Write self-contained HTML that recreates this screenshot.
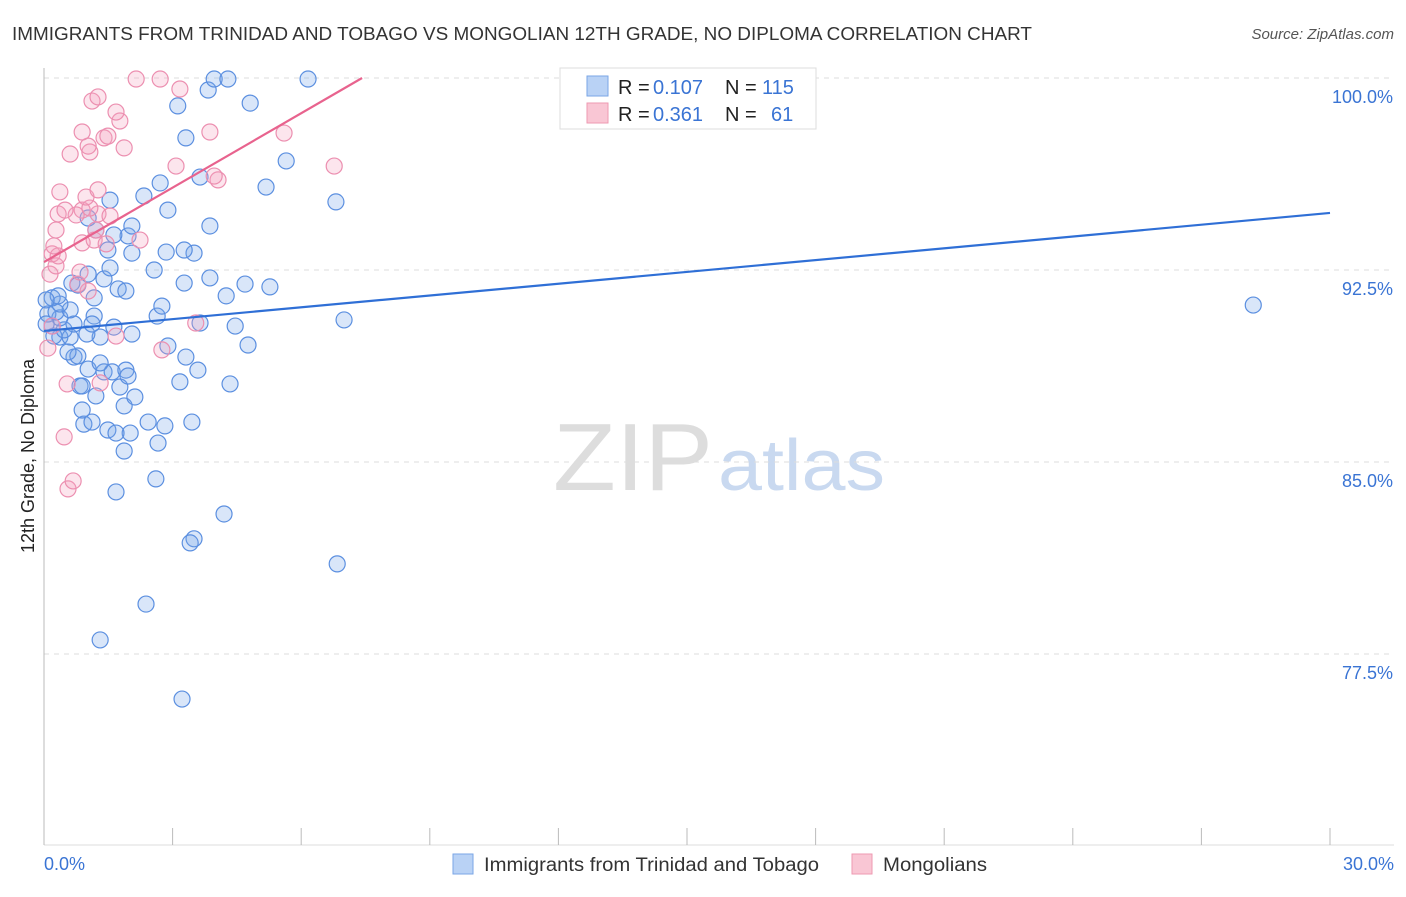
<!DOCTYPE html>
<html><head><meta charset="utf-8"><style>
body{margin:0;background:#fff;font-family:"Liberation Sans",sans-serif}
svg text{font-family:"Liberation Sans",sans-serif}
</style></head><body>
<svg id="chart" width="1406" height="892">
<text x="12" y="40" font-size="18" fill="#333" textLength="1020" lengthAdjust="spacingAndGlyphs">IMMIGRANTS FROM TRINIDAD AND TOBAGO VS MONGOLIAN 12TH GRADE, NO DIPLOMA CORRELATION CHART</text>
<text x="1394" y="39" font-size="15" fill="#555" font-style="italic" text-anchor="end">Source: ZipAtlas.com</text>
<text x="0" y="0" font-size="18" fill="#222" transform="translate(34,456) rotate(-90)" text-anchor="middle">12th Grade, No Diploma</text>
<g>
<text x="553" y="490" font-size="96" fill="#ddd" font-family="Liberation Serif,serif" textLength="160" lengthAdjust="spacingAndGlyphs">ZIP</text>
<text x="718" y="490" font-size="72" fill="#c9d9f0" textLength="167" lengthAdjust="spacingAndGlyphs">atlas</text>
</g>
<g id="grid"></g><g id="axes"></g><g id="pts"></g><g id="lines"></g>
<g>
<rect x="560" y="68" width="256" height="61" fill="#fff" stroke="#ddd"/>
<rect x="587" y="76" width="21" height="20" fill="#b9d2f5" stroke="#7aa6e6"/>
<rect x="587" y="103" width="21" height="20" fill="#f9c6d4" stroke="#ee99b2"/>
<text x="618" y="94" font-size="20" fill="#222">R =</text><text x="653" y="94" font-size="20" fill="#3a74d4">0.107</text>
<text x="725" y="94" font-size="20" fill="#222">N =</text><text x="762" y="94" font-size="20" fill="#3a74d4">115</text>
<text x="618" y="121" font-size="20" fill="#222">R =</text><text x="653" y="121" font-size="20" fill="#3a74d4">0.361</text>
<text x="725" y="121" font-size="20" fill="#222">N =</text><text x="771" y="121" font-size="20" fill="#3a74d4">61</text>
</g>
<g>
<rect x="453" y="854" width="20" height="20" fill="#b9d2f5" stroke="#7aa6e6"/>
<text x="484" y="871" font-size="19" fill="#333" textLength="335" lengthAdjust="spacingAndGlyphs">Immigrants from Trinidad and Tobago</text>
<rect x="852" y="854" width="20" height="20" fill="#f9c6d4" stroke="#ee99b2"/>
<text x="883" y="871" font-size="19" fill="#333" textLength="104" lengthAdjust="spacingAndGlyphs">Mongolians</text>
</g>
</svg>
<script>
const yTicks=[100,92.5,85,77.5];
const yTickLabels=["100.0%","92.5%","85.0%","77.5%"];
const xTickLabels=["0.0%","30.0%"];
const blueX=[1.31,3.22,2.38,6.84,3.50,3.41,4.20,1.68,2.61,1.87,2.66,2.01,1.49,1.68,0.93,1.12,2.43,2.82,3.45,0.89,1.87,1.21,2.12,0.84,0.89,1.77,3.17,4.34,1.40,1.59,1.91,1.96,1.03,3.59,1.31,0.70,0.79,3.31,2.89,0.56,4.76,0.37,0.23,0.61,1.31,1.00,2.05,1.63,0.47,0.19,0.70,1.17,1.12,3.64,4.46,2.64,7.00,0.37,0.09,0.28,0.61,0.37,0.19,0.33,1.17,2.75,1.73,1.91,4.25,5.27,4.69,0.65,0.79,1.40,3.87,3.27,1.03,1.54,2.57,2.05,2.85,3.50,1.49,3.27,1.96,1.63,1.21,2.05,3.87,1.03,2.89,1.54,2.33,6.81,5.18,2.71,3.64,5.65,3.31,3.12,4.81,3.83,3.97,4.29,6.16,28.21,0.05,0.05];
const blueY=[78.05,75.74,79.45,81.02,82.0,81.84,82.97,83.83,84.34,85.43,85.74,86.13,86.25,86.13,86.48,86.56,86.56,86.41,86.56,87.03,87.19,87.58,87.54,87.97,87.97,87.93,88.13,88.05,88.52,88.52,88.59,88.36,88.63,88.59,88.87,89.10,89.14,89.10,89.53,89.30,89.57,89.88,89.92,89.88,89.88,90.0,90.0,90.27,90.16,90.31,90.39,90.70,90.39,90.43,90.31,90.70,90.55,90.63,90.78,90.86,90.94,91.17,91.41,91.49,91.41,91.09,91.76,91.68,91.49,91.84,91.95,91.99,91.91,92.15,92.19,91.99,92.34,92.58,92.50,93.16,93.20,93.16,93.28,93.28,93.83,93.87,94.06,94.22,94.22,94.53,94.84,95.23,95.39,95.16,95.74,95.90,96.13,96.76,97.66,98.91,99.02,99.53,99.96,99.96,99.96,91.13,90.39,91.33];
const pinkX=[0.56,0.68,0.47,0.54,1.31,2.75,0.09,1.68,3.54,0.19,1.03,0.79,0.84,0.14,0.28,0.19,0.33,0.23,0.89,1.17,1.45,2.24,0.28,1.21,0.89,0.75,0.33,0.49,1.26,1.54,1.07,0.37,0.98,1.26,4.06,3.97,3.08,6.77,0.61,1.07,1.03,1.87,1.40,1.49,0.89,3.87,5.60,1.77,1.68,1.12,1.26,3.17,2.15,2.71];
const pinkY=[83.95,84.26,85.98,88.05,88.09,89.38,89.45,89.92,90.43,90.31,91.68,91.95,92.42,92.34,92.66,93.13,93.05,93.44,93.56,93.67,93.52,93.67,94.06,94.06,94.84,94.65,94.69,94.84,94.69,94.61,94.92,95.55,95.35,95.63,96.02,96.17,96.56,96.56,97.03,97.11,97.34,97.27,97.66,97.73,97.89,97.89,97.85,98.32,98.67,99.10,99.26,99.57,99.96,99.96];
const blueLine=[[0,90.12],[30,94.73]];
const pinkLine=[[0,92.81],[7.42,100]];
const NS='http://www.w3.org/2000/svg';
const sx=v=>44+v/30*1286, sy=v=>78+(100-v)/7.5*192;
function mk(tag,at,parent){const e=document.createElementNS(NS,tag);for(const k in at)e.setAttribute(k,at[k]);parent.appendChild(e);return e;}
const grid=document.getElementById('grid'),axes=document.getElementById('axes');
yTicks.forEach((t,i)=>{
 const l=mk('line',{x1:44,x2:1394,y1:sy(t),y2:sy(t),stroke:'#ddd','stroke-dasharray':'5,5'},grid);
 
 
 const tx=mk('text',{x:1393,y:sy(t)+25,'font-size':18,fill:'#3a74d4','text-anchor':'end'},axes);
 tx.textContent=yTickLabels[i];
 
 
});
mk('line',{x1:44,x2:44,y1:68,y2:845,stroke:'#bbb'},axes);
mk('line',{x1:44,x2:1394,y1:845,y2:845,stroke:'#ddd'},axes);
for(let i=0;i<=10;i++){const t=mk('line',{x1:sx(i*3),x2:sx(i*3),y1:828,y2:845,stroke:'#bbb'},axes);
 
 }
[[0,'start',44],[30,'end',1394]].forEach((d,i)=>{const t=mk('text',{x:d[2],y:870,'font-size':18,fill:'#3a74d4','text-anchor':d[1]},axes);t.textContent=xTickLabels[i];
 
 });
const pts=document.getElementById('pts');
blueX.forEach((x,i)=>{const c=mk('circle',{cx:sx(x),cy:sy(blueY[i]),r:8,fill:'rgba(120,165,235,0.28)',stroke:'#5b8fe0','stroke-width':1.2},pts);
 
 });
pinkX.forEach((x,i)=>{const c=mk('circle',{cx:sx(x),cy:sy(pinkY[i]),r:8,fill:'rgba(245,160,190,0.28)',stroke:'#ec8fb0','stroke-width':1.2},pts);
 
 });
const lines=document.getElementById('lines');
const bl=mk('line',{x1:sx(blueLine[0][0]),y1:sy(blueLine[0][1]),x2:sx(blueLine[1][0]),y2:sy(blueLine[1][1]),stroke:'#2f6fd6','stroke-width':2.2},lines);


const pl=mk('line',{x1:sx(pinkLine[0][0]),y1:sy(pinkLine[0][1]),x2:sx(pinkLine[1][0]),y2:sy(pinkLine[1][1]),stroke:'#e8638e','stroke-width':2.2},lines);


</script>
</body></html>
